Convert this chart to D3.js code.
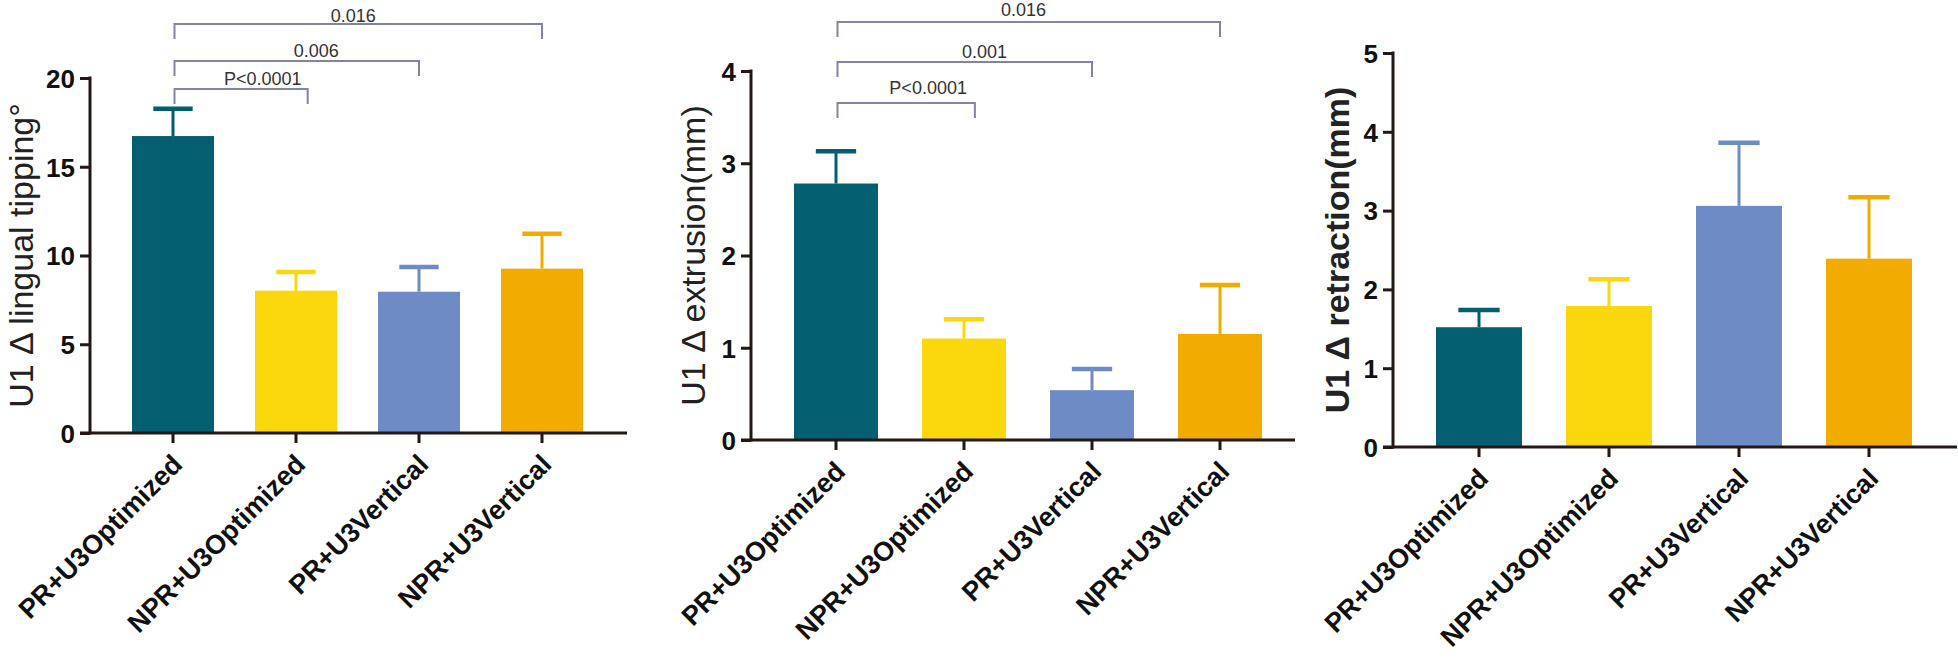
<!DOCTYPE html>
<html>
<head>
<meta charset="utf-8">
<script src="https://cdn.jsdelivr.net/npm/d3@7"></script>
<style>
  html, body { margin: 0; padding: 0; background: #ffffff; }
  svg { display: block; }
</style>
</head>
<body>
<svg id="chart" width="1958" height="670"></svg>
<script>
// ---------- DATA ----------
const categories = ["PR+U3Optimized", "NPR+U3Optimized", "PR+U3Vertical", "NPR+U3Vertical"];

const tippingMean = [16.73, 8.02, 7.96, 9.26];
const tippingErr  = [1.54, 1.05, 1.39, 1.97];
const tippingTicks = [0, 5, 10, 15, 20];
const tippingBrackets = [
  { from: 0, to: 1, label: "P<0.0001" },
  { from: 0, to: 2, label: "0.006" },
  { from: 0, to: 3, label: "0.016" }
];

const extrusionMean = [2.78, 1.10, 0.54, 1.15];
const extrusionErr  = [0.35, 0.21, 0.23, 0.53];
const extrusionTicks = [0, 1, 2, 3, 4];
const extrusionBrackets = [
  { from: 0, to: 1, label: "P<0.0001" },
  { from: 0, to: 2, label: "0.001" },
  { from: 0, to: 3, label: "0.016" }
];

const retractionMean = [1.52, 1.79, 3.06, 2.39];
const retractionErr  = [0.22, 0.34, 0.80, 0.78];
const retractionTicks = [0, 1, 2, 3, 4, 5];
const retractionBrackets = [];

const titles = ["U1 \u0394 lingual tipping\u00B0", "U1 \u0394 extrusion(mm)", "U1 \u0394 retraction(mm)"];

// ---------- STYLE ----------
const barColors = ["#035f70", "#fbd70e", "#6e8bc5", "#f2ac00"];
const axisColor = "#231815";
const bracketColor = "#8383a6";
const font = "'Liberation Sans', Arial, sans-serif";

const panels = [
  { mean: tippingMean, err: tippingErr, ticks: tippingTicks, brackets: tippingBrackets, title: titles[0], titleBold: false,
    axisX: 90, axisEnd: 627, bandRange: [111.5, 603.5], barW: 82, yTop: 78, yBase: 433, titleX: 21,
    bracketY: [89, 61, 24], textGap: [4, 4, 2], labelShift: [0.23, 0.165, -0.035], endShift: [0.095, 0, 0] },
  { mean: extrusionMean, err: extrusionErr, ticks: extrusionTicks, brackets: extrusionBrackets, title: titles[1], titleBold: false,
    axisX: 751, axisEnd: 1295, bandRange: [772, 1284], barW: 84, yTop: 71, yBase: 440, titleX: 693,
    bracketY: [103, 62, 22], textGap: [9, 4, 6], labelShift: [0.22, 0.16, -0.035], endShift: [0.085, 0, 0] },
  { mean: retractionMean, err: retractionErr, ticks: retractionTicks, brackets: retractionBrackets, title: titles[2], titleBold: true,
    axisX: 1393, axisEnd: 1957, bandRange: [1414, 1934], barW: 86, yTop: 53, yBase: 447, titleX: 1337,
    bracketY: [], textGap: [], labelShift: [], endShift: [] }
];

const svg = d3.select("#chart");

panels.forEach((p) => {
  const g = svg.append("g");
  const step = (p.bandRange[1] - p.bandRange[0]) / categories.length;
  const pad = 1 - p.barW / step;
  const x = d3.scaleBand().domain(categories).range(p.bandRange).paddingInner(pad).paddingOuter(pad / 2);
  const y = d3.scaleLinear().domain([p.ticks[0], p.ticks[p.ticks.length - 1]]).range([p.yBase, p.yTop]);
  const cx = (i) => x(categories[i]) + x.bandwidth() / 2;

  // bars
  g.selectAll("rect.bar").data(p.mean).join("rect")
    .attr("class", "bar")
    .attr("x", (d, i) => x(categories[i]))
    .attr("width", x.bandwidth())
    .attr("y", d => y(d))
    .attr("height", d => y(0) - y(d))
    .attr("fill", (d, i) => barColors[i]);

  // error bars (upper only)
  const capW = x.bandwidth() * 0.48;
  p.mean.forEach((m, i) => {
    const top = y(m + p.err[i]);
    g.append("line")
      .attr("x1", cx(i)).attr("x2", cx(i))
      .attr("y1", y(m)).attr("y2", top)
      .attr("stroke", barColors[i]).attr("stroke-width", 3);
    g.append("line")
      .attr("x1", cx(i) - capW / 2).attr("x2", cx(i) + capW / 2)
      .attr("y1", top).attr("y2", top)
      .attr("stroke", barColors[i]).attr("stroke-width", 4.5);
  });

  // y axis
  const yAxis = d3.axisLeft(y).tickValues(p.ticks).tickSize(10).tickPadding(5).tickFormat(d3.format("d"));
  const ya = g.append("g").attr("transform", `translate(${p.axisX},0)`).call(yAxis);
  ya.select(".domain").remove();
  ya.append("line").attr("x1", 0).attr("x2", 0).attr("y1", p.yTop - 1.5).attr("y2", p.yBase + 1.5)
    .attr("stroke", axisColor).attr("stroke-width", 3);
  ya.selectAll(".tick line").attr("stroke", axisColor).attr("stroke-width", 3);
  ya.selectAll(".tick text")
    .attr("fill", "#111").attr("font-family", font).attr("font-weight", "bold").attr("font-size", 26)
    .attr("dy", "0.36em");

  // x axis
  const xAxis = d3.axisBottom(x).tickSize(10).tickSizeOuter(0).tickPadding(0);
  const xa = g.append("g").attr("transform", `translate(0,${p.yBase})`).call(xAxis);
  xa.select(".domain").remove();
  xa.append("line").attr("x1", p.axisX - 10).attr("x2", p.axisEnd).attr("y1", 0).attr("y2", 0)
    .attr("stroke", axisColor).attr("stroke-width", 3);
  xa.selectAll(".tick line").attr("stroke", axisColor).attr("stroke-width", 3);
  xa.selectAll(".tick text")
    .attr("fill", "#111").attr("font-family", font).attr("font-weight", "bold").attr("font-size", 27)
    .attr("text-anchor", "end")
    .attr("x", 0).attr("y", 0).attr("dy", 0)
    .attr("transform", "translate(11,33) rotate(-45)");

  // y title
  g.append("text")
    .attr("transform", `translate(${p.titleX},${(p.yTop + p.yBase) / 2}) rotate(-90)`)
    .attr("text-anchor", "middle").attr("dy", "0.35em")
    .attr("font-family", font).attr("font-size", 34)
    .attr("font-weight", p.titleBold ? "bold" : "normal")
    .attr("fill", "#222")
    .text(p.title);

  // significance brackets
  p.brackets.forEach((b, k) => {
    const by = p.bracketY[k];
    const x1 = cx(b.from) + 1.5;
    const x2 = cx(b.to) + p.endShift[k] * step;
    g.append("path")
      .attr("d", `M${x1},${by + 15}V${by}H${x2}V${by + 15}`)
      .attr("fill", "none").attr("stroke", bracketColor).attr("stroke-width", 2);
    const lx = cx(b.from) + ((b.from + b.to) / 2 - b.from + p.labelShift[k]) * step;
    g.append("text")
      .attr("x", lx).attr("y", by - p.textGap[k])
      .attr("text-anchor", "middle")
      .attr("font-family", font).attr("font-size", 18).attr("fill", "#333")
      .text(b.label);
  });
});
</script>
</body>
</html>
